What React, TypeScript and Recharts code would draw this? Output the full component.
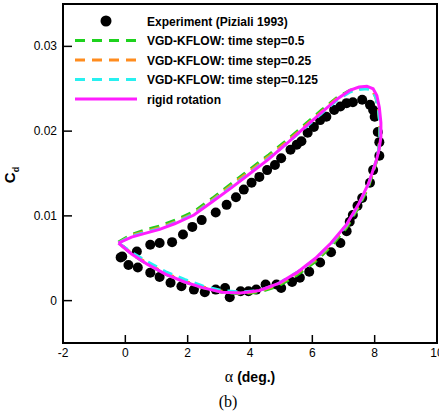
import { ScatterChart, Scatter, XAxis, YAxis, ReferenceArea } from "recharts"

// experiment (Piziali 1993), alpha in deg, Cd
const expAlpha = [
  -0.1, 0.37, 0.8, 1.1, 1.5, 1.85, 2.15, 2.45, 2.9, 3.25, 3.55, 3.8, 4.05, 4.3, 4.55, 4.8, 5.0, 5.3, 5.5, 5.65, 5.85,
  6.05, 6.25, 6.45, 6.7, 6.9, 7.1, 7.3, 7.6, 7.85, 7.95, 8.0, 8.1, 8.15, 8.15, 7.95, 7.85, 7.6, 7.45, 7.3, 7.2, 7.1,
  6.9, 6.6, 6.25, 5.9, 5.6, 5.35, 5.0, 4.85, 4.5, 4.2, 3.95, 3.7, 3.35, 3.2, 2.9, 2.55, 2.2, 1.8, 1.45, 1.1, 0.8, 0.4,
  0.1, -0.15,
]
const expCd = [
  0.0052, 0.0058, 0.0066, 0.0068, 0.0069, 0.0078, 0.0087, 0.0095, 0.0104, 0.0113, 0.0122, 0.0131, 0.0139, 0.0146,
  0.0154, 0.016, 0.0168, 0.0178, 0.0184, 0.0188, 0.0198, 0.0205, 0.0213, 0.0217, 0.0225, 0.0229, 0.0233, 0.0234,
  0.0237, 0.0231, 0.0225, 0.0217, 0.0199, 0.0187, 0.0171, 0.0154, 0.0139, 0.0121, 0.0112, 0.0101, 0.0093, 0.0082,
  0.0068, 0.0057, 0.0045, 0.0034, 0.0027, 0.0022, 0.0015, 0.0019, 0.0019, 0.0013, 0.0011, 0.0011, 0.0004, 0.0015,
  0.0013, 0.001, 0.0013, 0.0017, 0.0021, 0.0028, 0.0033, 0.0039, 0.0042, 0.0051,
]

// rigid rotation loop
const rigidAlpha = [
  -0.22, 0.2, 0.6, 1.1, 1.6, 2.2, 2.8, 3.4, 4.0, 4.6, 5.2, 5.8, 6.3, 6.8, 7.2, 7.5, 7.75, 7.95, 8.07, 8.15, 8.2, 8.2,
  8.14, 8.05, 7.8, 7.5, 7.1, 6.6, 6.1, 5.5, 4.9, 4.3, 3.7, 3.1, 2.5, 1.9, 1.3, 0.7, 0.2, -0.22,
]
const rigidCd = [
  0.0068, 0.0075, 0.0079, 0.0084, 0.0091, 0.0101, 0.0117, 0.0133, 0.015, 0.0167, 0.0186, 0.0206, 0.0222, 0.0238,
  0.0248, 0.0252, 0.0253, 0.025, 0.0242, 0.0228, 0.021, 0.0193, 0.0178, 0.0165, 0.0138, 0.0115, 0.009, 0.0068, 0.005,
  0.0033, 0.002, 0.0012, 0.0009, 0.001, 0.0015, 0.0022, 0.0031, 0.0043, 0.0055, 0.0068,
]

// VGD-KFLOW runs
const stepAlpha = [
  -0.22, 0.2, 0.6, 1.1, 1.6, 2.2, 2.8, 3.4, 4.0, 4.6, 5.2, 5.8, 6.3, 6.8, 7.2, 7.5, 7.75, 7.93, 8.04, 8.12, 8.17, 8.17,
  8.12, 8.04, 7.8, 7.5, 7.1, 6.6, 6.1, 5.5, 4.9, 4.3, 3.7, 3.1, 2.5, 1.9, 1.3, 0.7, 0.2, -0.22,
]
const step05Cd = [
  0.0069, 0.0078, 0.0083, 0.0088, 0.0095, 0.0105, 0.0121, 0.0138, 0.0155, 0.0172, 0.019, 0.0209, 0.0225, 0.024,
  0.0248, 0.0251, 0.0251, 0.0248, 0.024, 0.0226, 0.0208, 0.019, 0.0175, 0.0162, 0.0134, 0.0111, 0.0086, 0.0064,
  0.0046, 0.003, 0.0017, 0.001, 0.0008, 0.001, 0.0015, 0.0022, 0.0031, 0.0043, 0.0055, 0.0069,
]
const step025Cd = [
  0.0068, 0.0077, 0.0081, 0.0086, 0.0093, 0.0103, 0.0119, 0.0136, 0.0153, 0.017, 0.0188, 0.0207, 0.0223, 0.0239,
  0.0247, 0.025, 0.0251, 0.0248, 0.024, 0.0226, 0.0208, 0.0191, 0.0176, 0.0163, 0.0136, 0.0113, 0.0088, 0.0066,
  0.0048, 0.0032, 0.0019, 0.0011, 0.0009, 0.0011, 0.0016, 0.0023, 0.0032, 0.0044, 0.0056, 0.0068,
]
const step0125Cd = [
  0.0068, 0.0076, 0.008, 0.0085, 0.0092, 0.0102, 0.0118, 0.0134, 0.0151, 0.0168, 0.0186, 0.0205, 0.0221, 0.0237,
  0.0246, 0.0249, 0.025, 0.0247, 0.024, 0.0226, 0.0208, 0.0191, 0.0176, 0.0164, 0.0137, 0.0114, 0.0089, 0.0067,
  0.0049, 0.0033, 0.002, 0.0012, 0.001, 0.0012, 0.0017, 0.0025, 0.0034, 0.0046, 0.0057, 0.0068,
]

const xTicks = [-2, 0, 2, 4, 6, 8, 10]
const yTicks = [0, 0.01, 0.02, 0.03]

const zip = (a: number[], c: number[]) => a.map((x, i) => ({ x, y: c[i] }))

const experiment = zip(expAlpha, expCd)
const rigid = zip(rigidAlpha, rigidCd)
const step05 = zip(stepAlpha, step05Cd)
const step025 = zip(stepAlpha, step025Cd)
const step0125 = zip(stepAlpha, step0125Cd)

const FONT = "'Liberation Sans', Arial, sans-serif"

const COLORS = {
  green: "#1ed21e",
  orange: "#ff8c1e",
  cyan: "#28f0f0",
  magenta: "#ff1eff",
}

const XTick = (props: any) => {
  const { x, y, payload } = props
  return (
    <g>
      <line x1={x} y1={y} x2={x} y2={y - 8} stroke="#000" strokeWidth={1.5} />
      <text x={x} y={y + 14} textAnchor="middle" fontSize={12} fontFamily={FONT} fill="#000">
        {payload.value}
      </text>
    </g>
  )
}

const YTick = (props: any) => {
  const { x, y, payload } = props
  return (
    <g>
      <line x1={x} y1={y} x2={x + 9} y2={y} stroke="#000" strokeWidth={1.5} />
      <text x={x - 6} y={y + 4} textAnchor="end" fontSize={12} fontFamily={FONT} fill="#000">
        {payload.value}
      </text>
    </g>
  )
}

const legendRows = [
  { label: "Experiment (Piziali 1993)", kind: "dot", color: "#000" },
  { label: "VGD-KFLOW: time step=0.5", kind: "dash", color: COLORS.green },
  { label: "VGD-KFLOW: time step=0.25", kind: "dash", color: COLORS.orange },
  { label: "VGD-KFLOW: time step=0.125", kind: "dash", color: COLORS.cyan },
  { label: "rigid rotation", kind: "line", color: COLORS.magenta },
]

const ChartLegend = () => (
  <svg width={300} height={100} style={{ position: "absolute", left: 63, top: 13 }}>
    {legendRows.map((r, i) => {
      const cy = 8 + i * 19.5
      return (
        <g key={r.label}>
          {r.kind === "dot" ? (
            <circle cx={43} cy={cy} r={5.5} fill="#000" />
          ) : (
            <line
              x1={12}
              y1={cy}
              x2={74}
              y2={cy}
              stroke={r.color}
              strokeWidth={3}
              strokeDasharray={r.kind === "dash" ? "10 7" : undefined}
            />
          )}
          <text x={84} y={cy + 4.5} fontSize={12} fontWeight="bold" fontFamily={FONT} fill="#000">
            {r.label}
          </text>
        </g>
      )
    })}
  </svg>
)

const dot = (p: any) => <circle cx={p.cx} cy={p.cy} r={5} fill="#000" />
const noDot = () => <g />

export default function App() {
  return (
    <div style={{ position: "absolute", left: 0, top: 0, width: 439, height: 417, background: "#fff" }}>
      <ScatterChart width={439} height={417} margin={{ top: 4, right: 2, bottom: 44, left: 0 }}>
        <XAxis
          type="number"
          dataKey="x"
          domain={[-2, 10]}
          ticks={xTicks}
          interval={0}
          height={30}
          tickSize={0}
          tickMargin={0}
          axisLine={false}
          tick={<XTick />}
          allowDataOverflow
        />
        <YAxis
          type="number"
          dataKey="y"
          domain={[-0.005, 0.035]}
          ticks={yTicks}
          interval={0}
          width={63}
          tickSize={0}
          tickMargin={0}
          axisLine={false}
          tick={<YTick />}
          allowDataOverflow
        />
        <ReferenceArea x1={-2} x2={10} y1={-0.005} y2={0.035} fill="none" stroke="#000" strokeWidth={2} />
        <Scatter data={experiment} shape={dot} isAnimationActive={false} />
        <Scatter
          data={step05}
          shape={noDot}
          line={{ stroke: COLORS.green, strokeWidth: 3, strokeDasharray: "10 7" }}
          isAnimationActive={false}
        />
        <Scatter
          data={step025}
          shape={noDot}
          line={{ stroke: COLORS.orange, strokeWidth: 3, strokeDasharray: "10 7" }}
          isAnimationActive={false}
        />
        <Scatter
          data={step0125}
          shape={noDot}
          line={{ stroke: COLORS.cyan, strokeWidth: 3, strokeDasharray: "10 7" }}
          isAnimationActive={false}
        />
        <Scatter
          data={rigid}
          shape={noDot}
          line={{ stroke: COLORS.magenta, strokeWidth: 3 }}
          isAnimationActive={false}
        />
      </ScatterChart>
      <ChartLegend />
      <div
        style={{
          position: "absolute",
          left: 11,
          top: 175,
          transform: "translate(-50%, -50%) rotate(-90deg)",
          fontFamily: FONT,
          fontWeight: "bold",
          fontSize: 15,
          whiteSpace: "nowrap",
        }}
      >
        C<sub style={{ fontSize: 9 }}>d</sub>
      </div>
      <div
        style={{
          position: "absolute",
          left: 250,
          top: 377,
          transform: "translate(-50%, -50%)",
          whiteSpace: "nowrap",
          fontSize: 14,
        }}
      >
        <span style={{ fontFamily: "'Liberation Serif', serif", fontSize: 16 }}>α </span>
        <span style={{ fontFamily: FONT, fontWeight: "bold" }}>(deg.)</span>
      </div>
      <div
        style={{
          position: "absolute",
          left: 228,
          top: 402,
          transform: "translate(-50%, -50%)",
          fontFamily: "'Liberation Serif', serif",
          fontSize: 16,
          whiteSpace: "nowrap",
        }}
      >
        (b)
      </div>
    </div>
  )
}
